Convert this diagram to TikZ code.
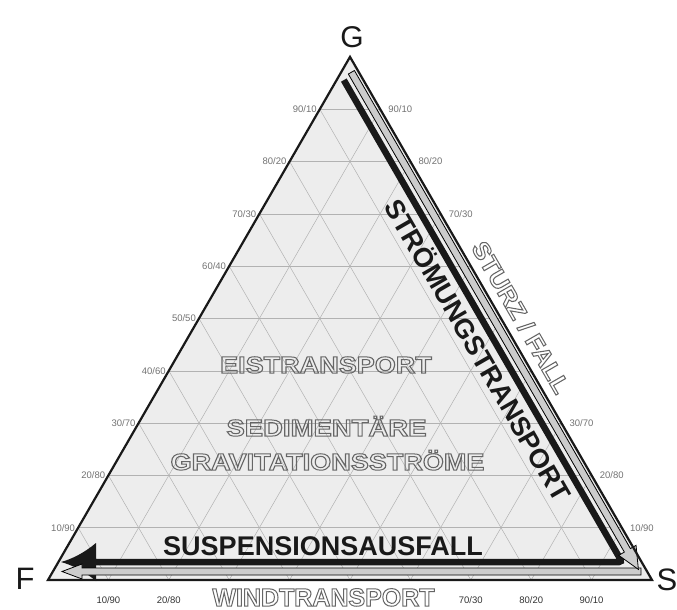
\documentclass[tikz,border=0pt]{standalone}
\usepackage{fontspec}
\setmainfont{Liberation Sans}
\usetikzlibrary{calc}
\newcommand\hollowtx[1]{\special{pdf:literal direct 1 Tr 1 w}#1\special{pdf:literal direct 0 Tr}}
\begin{document}
\begin{tikzpicture}[x=1pt,y=-1pt,
  gridline/.style={draw=black!30, line width=0.5pt},
  sidelbl/.style={font=\fontsize{9.5}{10}\selectfont, text=black!55, inner sep=0pt},
  botlbl/.style={font=\fontsize{9.5}{10}\selectfont, text=black!80, inner sep=0pt},
  hollowtxt/.style={text=black!60, inner sep=0pt},
  boldtxt/.style={font=\fontsize{27}{30}\selectfont\bfseries, text=black!90, inner sep=0pt},
  vertex/.style={font=\fontsize{31}{33}\selectfont, text=black!90, inner sep=0pt},
  band/.style={fill=black!20, draw=black, line width=0.8pt, line join=miter},
]
\useasboundingbox (0,0) rectangle (677,610);
\fill[white] (0,0) rectangle (677,610);
\coordinate (F) at (48,580);
\coordinate (S) at (652,580);
\coordinate (G) at (350,56.9);
\fill[black!7] (F) -- (S) -- (G) -- cycle;
\foreach \k in {1,...,9} {
  \draw[gridline] ($(F)!\k/10!(G)$) -- ($(S)!\k/10!(G)$);
  \draw[gridline] ($(F)!\k/10!(S)$) -- ($(G)!\k/10!(S)$);
  \draw[gridline] ($(S)!\k/10!(F)$) -- ($(G)!\k/10!(F)$);
}
% tick labels
\foreach \k in {1,...,9} {
  \pgfmathtruncatemacro\rest{100-10*\k}
  \node[sidelbl, anchor=east] (lL\k) at ($(F)!\k/10!(G)+(-3,0)$) {\k0/\rest};
}
\foreach \k in {1,2,3,7,8,9} {
  \pgfmathtruncatemacro\rest{100-10*\k}
  \node[sidelbl, anchor=west] (lR\k) at ($(S)!\k/10!(G)+(8,0)$) {\k0/\rest};
}
\foreach \k in {1,2,7,8,9} {
  \pgfmathtruncatemacro\rest{100-10*\k}
  \node[botlbl] (lB\k) at ($(F)!\k/10!(S)+(0,20)$) {\k0/\rest};
}
% black band (Stroemungstransport / Suspensionsausfall)
\coordinate (bstart) at (343.8,80.1);
\coordinate (bcorner) at (622,562);
\coordinate (bend) at (92,562);
\draw[line width=6.5pt, rounded corners=3pt, black!90] (bstart) -- (bcorner) -- (bend);
\fill[black!90] (96,543) .. controls (84,553) and (72,559) .. (61,562)
  .. controls (72,565) and (84,571) .. (96,581) -- cycle;
% bottom gray band (Windtransport)
\draw[band] (641,568) -- (82,568) -- (82,564) -- (62,571.5) -- (82,579) -- (82,575) -- (641,575) -- cycle;
% right gray band (Sturz / Fall)
\begin{scope}[shift={(G)}, rotate=-60]
  \draw[band] (14,3) -- (566,3) -- (566,-3.5) -- (588,6.5) -- (566,16.5) -- (566,10) -- (14,10) -- cycle;
\end{scope}
% triangle outline
\draw[line width=2.2pt, line join=miter, black!90] (F) -- (S) -- (G) -- cycle;
% texts
\node[boldtxt, anchor=base] (susp) at (323,555) {SUSPENSIONSAUSFALL};
\begin{scope}[shift={(G)}, rotate=-60]
  \node[boldtxt, anchor=base, rotate=-60] (strom) at (318,45.7) {STRÖMUNGSTRANSPORT};
  \node[hollowtxt, anchor=base, rotate=-60, font=\fontsize{24}{26}\selectfont\bfseries] (sturz) at (311,-9.3) {\scalebox{1.07}[1]{\hollowtx{STURZ / FALL}}};
\end{scope}
\node[hollowtxt, anchor=base, font=\fontsize{23.3}{25}\selectfont\bfseries] (eis) at (326,373) {\scalebox{1.16}[1]{\hollowtx{EISTRANSPORT}}};
\node[hollowtxt, anchor=base, font=\fontsize{23.3}{25}\selectfont\bfseries] (sed) at (326.5,436) {\scalebox{1.18}[1]{\hollowtx{SEDIMENTÄRE}}};
\node[hollowtxt, anchor=base, font=\fontsize{23.3}{25}\selectfont\bfseries] (grav) at (327.5,470) {\scalebox{1.16}[1]{\hollowtx{GRAVITATIONSSTRÖME}}};
\node[hollowtxt, anchor=base, font=\fontsize{25}{27}\selectfont\bfseries] (wind) at (323.5,606) {\hollowtx{WINDTRANSPORT}};
% vertex letters
\node[vertex, font=\fontsize{30}{32}\selectfont] (Gl) at (352,37.5) {G};
\node[vertex] (Fl) at (25,578.5) {F};
\node[vertex] (Sl) at (667,580) {S};
\end{tikzpicture}
\end{document}
